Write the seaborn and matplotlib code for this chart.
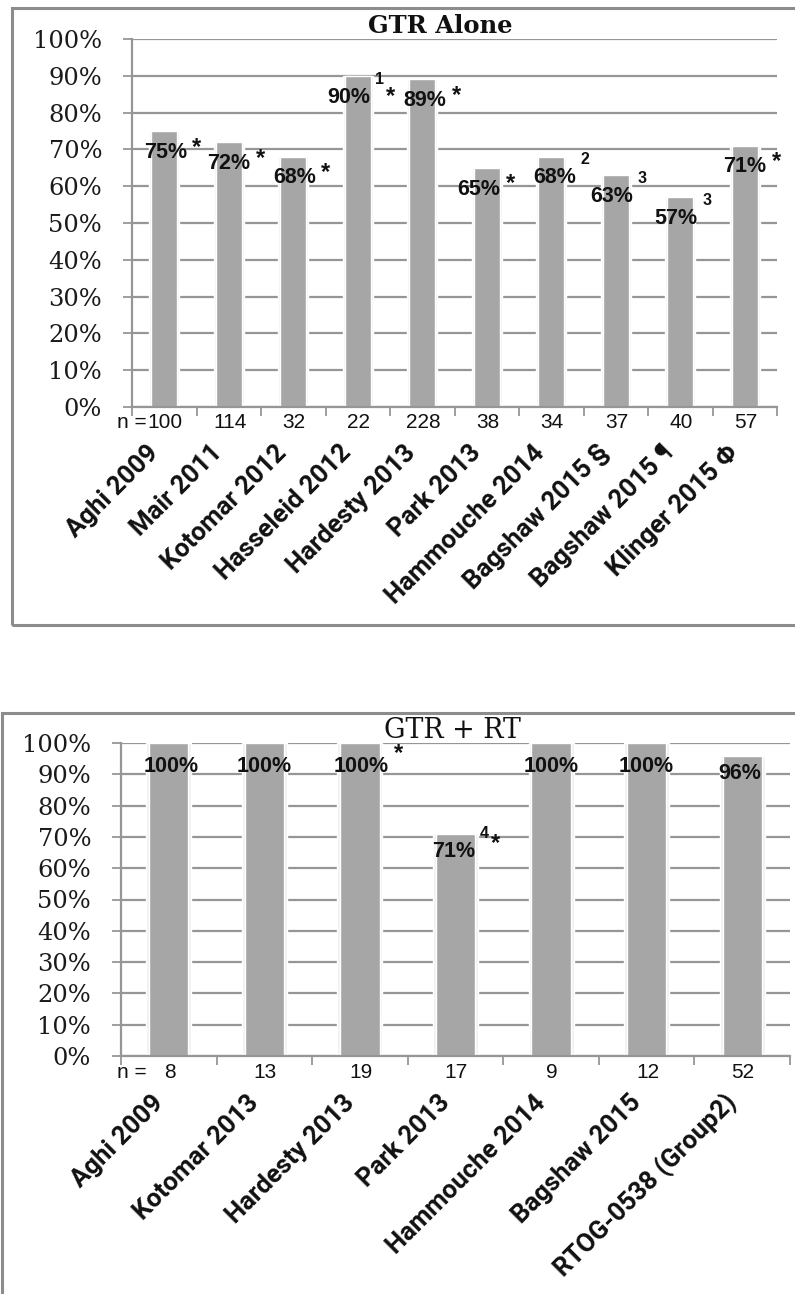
import matplotlib
matplotlib.use("Agg")
import matplotlib.pyplot as plt
import numpy as np
import pandas as pd
import seaborn as sns
from matplotlib.patches import Rectangle

# ---- data -----------------------------------------------------------------
alone_studies = ["Aghi 2009", "Mair 2011", "Kotomar 2012", "Hasseleid 2012",
                 "Hardesty 2013", "Park 2013", "Hammouche 2014",
                 "Bagshaw 2015 §", "Bagshaw 2015 ¶", "Klinger 2015 Φ"]
alone_pct = [75, 72, 68, 90, 89, 65, 68, 63, 57, 71]
alone_n = [100, 114, 32, 22, 228, 38, 34, 37, 40, 57]
alone_note = ["", "", "", "1", "", "", "2", "3", "3", ""]
alone_star = [True, True, True, True, True, True, False, False, False, True]

rt_studies = ["Aghi 2009", "Kotomar 2013", "Hardesty 2013", "Park 2013",
              "Hammouche 2014", "Bagshaw 2015", "RTOG-0538 (Group2)"]
rt_pct = [100, 100, 100, 71, 100, 100, 96]
rt_n = [8, 13, 19, 17, 9, 12, 52]
rt_note = ["", "", "", "4", "", "", ""]
rt_star = [False, False, True, True, False, False, False]

y_ticks = [0, 10, 20, 30, 40, 50, 60, 70, 80, 90, 100]

# ---- style ----------------------------------------------------------------
sns.set_theme(style="white")
W, H = 795, 1294
BAR = "#a6a6a6"
GLOW = "#f1f1f1"
GRID = "#969696"
FRAME = "#8c8c8c"
INK = "#111111"
SERIF = ["DejaVu Serif"]
SANS = ["Liberation Sans", "DejaVu Sans"]
NAME_FONT = ["Roboto", "DejaVu Sans"]

LABEL_PT, NOTE_PT, STAR_PT = 15.5, 11.5, 17
PX = 100 / 72  # pixels per point

fig = plt.figure(figsize=(W / 100, H / 100), dpi=100)
renderer = fig.canvas.get_renderer()


def box(x0, y0, x1, y1):
    """Axes box given in pixel coordinates measured from the top-left."""
    return [x0 / W, 1 - y1 / H, (x1 - x0) / W, (y1 - y0) / H]


def put(x, y, s, **kw):
    """Text at figure pixel position (origin bottom-left)."""
    return fig.text(x / W, y / H, s, transform=fig.transFigure, **kw)


def panel(ax, studies, pct, n, note, star, title, title_weight, title_xy,
          label_dx, label_dy, star_lift, n_prefix_dx, n_dy, name_dx, name_dy):
    df = pd.DataFrame({"study": studies, "pct": pct})
    k = len(studies)
    # soft halo behind each bar, then the bar itself
    sns.barplot(data=df, x="study", y="pct", ax=ax, color=GLOW, width=0.47,
                saturation=1, order=studies, zorder=1.5)
    sns.barplot(data=df, x="study", y="pct", ax=ax, color=BAR, width=0.41,
                saturation=1, order=studies, zorder=2)
    ax.set_xlim(-0.5, k - 0.5)
    ax.set_ylim(0, 100)
    ax.set_xlabel("")
    ax.set_ylabel("")
    ax.set_xticks(np.arange(-0.5, k, 1.0))
    ax.set_xticklabels([""] * (k + 1))
    ax.set_yticks(y_ticks)
    ax.set_yticklabels([f"{t}%" for t in y_ticks], family=SERIF, fontsize=17.4,
                       color="#1a1a1a")
    ax.tick_params(axis="both", direction="out", length=6.5, width=1.3,
                   color=GRID, bottom=True, left=True)
    ax.tick_params(axis="y", pad=15)
    ax.grid(axis="y", color=GRID, lw=1.6, zorder=1)
    ax.set_axisbelow(True)
    for s in ("top", "right"):
        ax.spines[s].set_visible(False)
    for s in ("left", "bottom"):
        ax.spines[s].set_color(GRID)
        ax.spines[s].set_linewidth(1.6)
    ax.set_facecolor("none")

    # value labels inside the bar tops, with footnote marks
    for i, v in enumerate(pct):
        bx, by = ax.transData.transform((i, v))
        cx, cy = bx + label_dx[i], by - label_dy[i]
        lab = put(cx, cy - 0.358 * LABEL_PT * PX, f"{v}%", ha="center",
                  va="baseline", family=SANS, fontweight="bold",
                  fontsize=LABEL_PT, color=INK, zorder=5)
        right = lab.get_window_extent(renderer).x1
        sx = right + 10
        if note[i]:
            put(right + 9, cy + 17 - 0.358 * NOTE_PT * PX, note[i],
                ha="center", va="baseline", family=SANS, fontweight="bold",
                fontsize=NOTE_PT, color=INK, zorder=5)
            sx = right + 20
        if star[i]:
            lift = star_lift - (5 if note[i] else 0)
            put(sx, cy + lift - 0.58 * STAR_PT * PX, "*", ha="center",
                va="baseline", family=SANS, fontweight="bold",
                fontsize=STAR_PT, color=INK, zorder=5)

    # sample sizes under the axis
    for i, m in enumerate(n):
        ax.annotate(str(m), xy=(i, 0), xytext=(1, -n_dy),
                    textcoords="offset pixels", ha="center", va="center",
                    family=SANS, fontsize=15, color=INK)
    ax.annotate("n =", xy=(0, 0), xycoords="axes fraction",
                xytext=(n_prefix_dx, -n_dy), textcoords="offset pixels",
                ha="right", va="center", family=SANS, fontsize=15, color=INK)

    # study names, slanted
    for i, name in enumerate(studies):
        ax.annotate(name, xy=(i, 0), xytext=(name_dx, -name_dy),
                    textcoords="offset pixels", ha="right", va="center",
                    rotation=45, rotation_mode="anchor", family=NAME_FONT,
                    fontweight="bold", fontsize=18.5, color=INK)

    put(title_xy[0], H - title_xy[1], title, ha="center", va="baseline",
        family=SERIF, fontweight=title_weight,
        fontsize=17.5 if title_weight == "bold" else 19.4, color=INK)


# outer frames of the two chart panels
fig.patches.append(Rectangle((12 / W, 1 - 625 / H), (W + 20 - 12) / W,
                             (625 - 8) / H, transform=fig.transFigure,
                             fill=False, ec=FRAME, lw=2.2, clip_on=False))
fig.patches.append(Rectangle((2 / W, -0.05), (W + 20) / W, 1.05 - 713 / H,
                             transform=fig.transFigure, fill=False, ec=FRAME,
                             lw=2.2, clip_on=False))

ax1 = fig.add_axes(box(132, 39, 777, 407))
panel(ax1, alone_studies, alone_pct, alone_n, alone_note, alone_star,
      "GTR Alone", "bold", (440, 33),
      label_dx=[1, 0, 1, -9, 3, -8, 3, -4, -4, 0], label_dy=[19] * 10,
      star_lift=10, n_prefix_dx=15, n_dy=16, name_dx=-10, name_dy=42)

ax2 = fig.add_axes(box(121, 743, 790, 1056))
panel(ax2, rt_studies, rt_pct, rt_n, rt_note, rt_star,
      "GTR + RT", "normal", (452, 738),
      label_dx=[2, 0, 1, -2, 0, 0, -3], label_dy=[21, 21, 21, 16, 21, 21, 16],
      star_lift=18, n_prefix_dx=26, n_dy=17, name_dx=-9, name_dy=43)

fig.savefig("out.png", dpi=100, facecolor="white")
